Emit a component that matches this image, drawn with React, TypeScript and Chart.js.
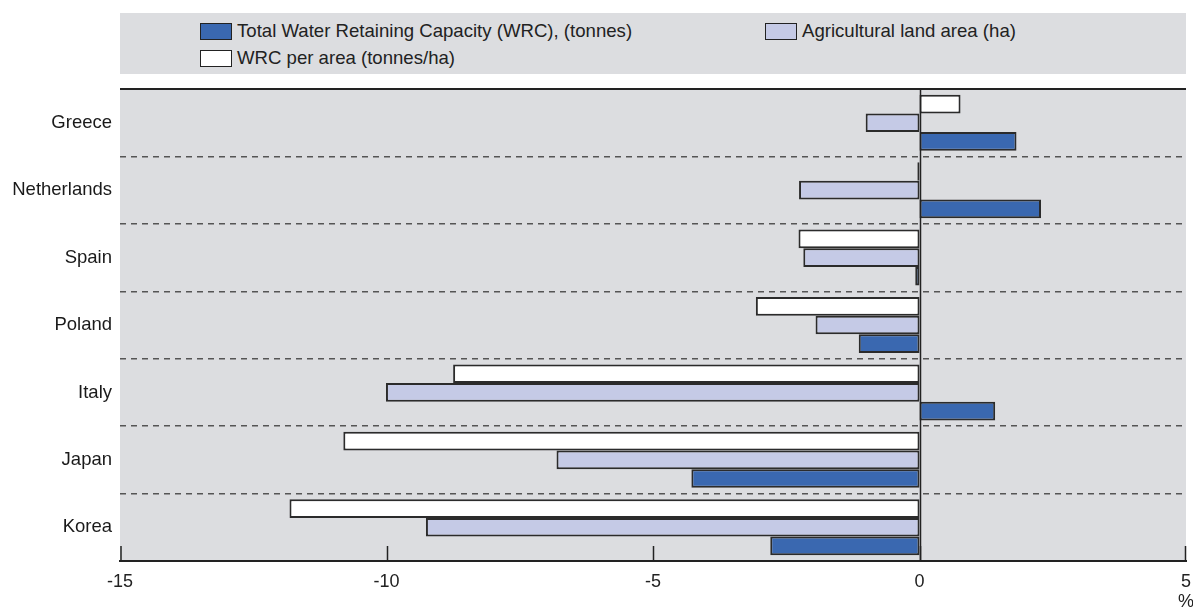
import React, { useEffect, useRef } from "react";
import { Chart, registerables } from "chart.js";

Chart.register(...registerables);

const countries = ["Greece", "Netherlands", "Spain", "Poland", "Italy", "Japan", "Korea"];
const totalWRC = [1.82, 2.28, -0.08, -1.14, 1.42, -4.28, -2.8];
const agriculturalArea = [-1.01, -2.26, -2.18, -1.95, -10.01, -6.81, -9.26];
const wrcPerArea = [0.77, -0.04, -2.27, -3.07, -8.75, -10.81, -11.82];
const xTickValues = [-15, -10, -5, 0, 5];
const seriesNames = [
  "Total Water Retaining Capacity (WRC), (tonnes)",
  "Agricultural land area (ha)",
  "WRC per area (tonnes/ha)",
];
const unitLabel = "%";

const GRAY = "#dcdde0";
const DARK = "#222222";
const BLUE = "#3a68b0";
const LAVENDER = "#c5cae6";
const WHITE = "#ffffff";
const NARROW = "'Liberation Sans Narrow', 'Arial Narrow', 'Liberation Sans', Arial, sans-serif";
const SANS = "'Liberation Sans', Arial, sans-serif";

const decorPlugin = {
  id: "decor",
  beforeDraw(chart: any) {
    const { ctx, chartArea } = chart;
    ctx.save();
    ctx.fillStyle = GRAY;
    ctx.fillRect(chartArea.left, chartArea.top, chartArea.right - chartArea.left, chartArea.bottom - chartArea.top);
    ctx.restore();
  },
  afterDatasetsDraw(chart: any) {
    const { ctx, chartArea } = chart;
    const xs = chart.scales.x;
    ctx.save();
    ctx.strokeStyle = DARK;
    // top border
    ctx.lineWidth = 2;
    ctx.beginPath();
    ctx.moveTo(chartArea.left, chartArea.top);
    ctx.lineTo(chartArea.right, chartArea.top);
    ctx.stroke();
    // zero line
    const x0 = Math.round(xs.getPixelForValue(0)) + 0.5;
    ctx.lineWidth = 1.5;
    ctx.beginPath();
    ctx.moveTo(x0, chartArea.top);
    ctx.lineTo(x0, chartArea.bottom);
    ctx.stroke();
    // inner tick marks
    xTickValues.forEach((v) => {
      let px = Math.round(xs.getPixelForValue(v)) + 0.5;
      if (v === xTickValues[0]) px += 0.5;
      if (v === xTickValues[xTickValues.length - 1]) px -= 1;
      ctx.beginPath();
      ctx.moveTo(px, chartArea.bottom - 15);
      ctx.lineTo(px, chartArea.bottom);
      ctx.stroke();
    });
    // unit label
    ctx.fillStyle = DARK;
    ctx.font = `18px ${NARROW}`;
    ctx.textAlign = "center";
    ctx.textBaseline = "middle";
    ctx.fillText(unitLabel, xs.getPixelForValue(5), 602);
    ctx.restore();
  },
};

function LegendItem({ left, top, color, text }: { left: number; top: number; color: string; text: string }) {
  return (
    <>
      <div
        style={{
          position: "absolute",
          left,
          top,
          width: 30,
          height: 15,
          background: color,
          border: `1.5px solid ${DARK}`,
        }}
      />
      <div
        style={{
          position: "absolute",
          left: left + 37,
          top: top - 3,
          height: 22,
          lineHeight: "22px",
          font: `18.6px ${NARROW}`,
          color: DARK,
          whiteSpace: "nowrap",
        }}
      >
        {text}
      </div>
    </>
  );
}

export default function App() {
  const canvasRef = useRef<HTMLCanvasElement | null>(null);

  useEffect(() => {
    if (!canvasRef.current) return;
    const barStyle = { borderColor: "#2b2b2b", borderWidth: 2, borderSkipped: false };
    const chart = new Chart(canvasRef.current, {
      type: "bar",
      data: {
        labels: countries,
        datasets: [
          { label: seriesNames[2], data: wrcPerArea, backgroundColor: WHITE, ...barStyle },
          { label: seriesNames[1], data: agriculturalArea, backgroundColor: LAVENDER, ...barStyle },
          { label: seriesNames[0], data: totalWRC, backgroundColor: BLUE, ...barStyle },
        ],
      },
      options: {
        indexAxis: "y",
        responsive: false,
        animation: false,
        devicePixelRatio: 1,
        layout: { padding: { top: 89, right: 7, left: 0, bottom: 0 } },
        datasets: {
          bar: { categoryPercentage: 0.83, barPercentage: 1 },
        },
        plugins: {
          legend: { display: false },
          tooltip: { enabled: false },
        },
        scales: {
          x: {
            type: "linear",
            min: -15,
            max: 5,
            afterFit: (scale: any) => {
              scale.height = 46;
              scale.paddingLeft = 0;
              scale.paddingRight = 0;
            },
            afterBuildTicks: (scale: any) => {
              scale.ticks = xTickValues.map((v) => ({ value: v }));
            },
            grid: { display: false, drawTicks: false },
            border: { display: true, color: DARK, width: 2 },
            ticks: {
              padding: 10,
              color: DARK,
              font: { family: NARROW, size: 18 },
            },
          },
          y: {
            type: "category",
            afterFit: (scale: any) => {
              scale.width = 120;
              scale.paddingTop = 0;
              scale.paddingBottom = 0;
            },
            grid: {
              display: true,
              offset: true,
              drawTicks: false,
              lineWidth: 1.5,
              color: (ctx: any) => (ctx.index === 0 || ctx.index >= countries.length ? "rgba(0,0,0,0)" : "#555555"),
            },
            border: { display: false, dash: [6, 5] },
            ticks: {
              padding: 8,
              color: "#1a1a1a",
              font: { family: SANS, size: 18.5 },
            },
          },
        },
      },
      plugins: [decorPlugin],
    } as any);
    return () => chart.destroy();
  }, []);

  return (
    <div style={{ position: "fixed", left: 0, top: 0, width: 1193, height: 607, background: "#fff" }}>
      <div style={{ position: "absolute", left: 120, top: 13, width: 1066, height: 61, background: GRAY }} />
      <LegendItem left={200} top={23} color={BLUE} text={seriesNames[0]} />
      <LegendItem left={765} top={23} color={LAVENDER} text={seriesNames[1]} />
      <LegendItem left={200} top={50} color={WHITE} text={seriesNames[2]} />
      <canvas
        ref={canvasRef}
        width={1193}
        height={607}
        style={{ position: "absolute", left: 0, top: 0, width: 1193, height: 607 }}
      />
    </div>
  );
}
